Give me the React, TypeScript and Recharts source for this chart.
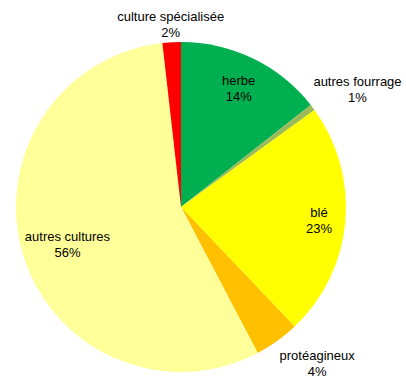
import { PieChart, Pie, Cell } from "recharts"

const categories = [
  "herbe",
  "autres fourrage",
  "blé",
  "protéagineux",
  "autres cultures",
  "culture spécialisée",
]
const shares = [14.4, 0.6, 22.9, 4.4, 55.9, 1.8]

const colors = ["#00b050", "#9bbb59", "#ffff00", "#ffc000", "#ffff99", "#ff0000"]
// label distance from centre (fraction of outer radius) and a small nudge in px
const labelRadius = [0.8, 1.28, 0.84, 1.26, 0.72, 1.11]
const labelNudge = [
  [0, 0],
  [8, 9],
  [0, 0],
  [15, -13],
  [0, 2],
  [0, 0],
]

const data = categories.map((name, i) => ({ name, value: shares[i] }))

const RAD = Math.PI / 180

function renderLabel(props: any) {
  const { cx, cy, midAngle, outerRadius, index, value, name } = props
  const r = outerRadius * labelRadius[index]
  const x = cx + r * Math.cos(-midAngle * RAD) + labelNudge[index][0]
  const y = cy + r * Math.sin(-midAngle * RAD) + labelNudge[index][1]
  return (
    <text
      x={x}
      y={y}
      textAnchor="middle"
      fill="#000"
      fontSize={13}
      fontFamily="'Liberation Sans', Arial, sans-serif"
    >
      <tspan x={x} dy={-3}>{name}</tspan>
      <tspan x={x} dy={16}>{`${Math.round(value)}%`}</tspan>
    </text>
  )
}

export default function App() {
  return (
    <div style={{ position: "absolute", left: 0, top: 0, width: 406, height: 376, background: "#fff" }}>
      <PieChart width={406} height={376} margin={{ top: 0, right: 0, bottom: 0, left: 0 }}>
        <Pie
          data={data}
          dataKey="value"
          nameKey="name"
          cx={181}
          cy={207}
          outerRadius={165}
          startAngle={90}
          endAngle={-270}
          stroke="none"
          label={renderLabel}
          labelLine={false}
          isAnimationActive={false}
        >
          {data.map((d, i) => (
            <Cell key={d.name} fill={colors[i]} />
          ))}
        </Pie>
      </PieChart>
    </div>
  )
}
